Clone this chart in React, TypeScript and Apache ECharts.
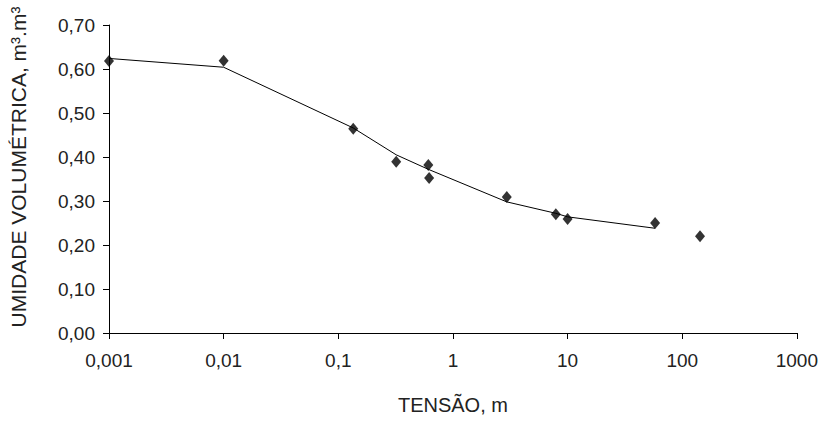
import React, { useEffect, useRef } from "react";
import * as echarts from "echarts";

const tensao = [0.001, 0.01, 0.135, 0.32, 0.61, 0.62, 2.95, 7.9, 10, 58, 143];
const umidade = [0.618, 0.619, 0.464, 0.389, 0.382, 0.352, 0.309, 0.27, 0.259, 0.25, 0.22];
const ajusteTensao = [0.001, 0.01, 0.135, 0.32, 0.61, 2.95, 7.9, 10, 58];
const ajusteUmidade = [0.624, 0.604, 0.466, 0.405, 0.372, 0.298, 0.272, 0.264, 0.238];
const xTickLabels = ["0,001", "0,01", "0,1", "1", "10", "100", "1000"];

const FONT = "'Liberation Sans Narrow', 'Liberation Sans', Arial, sans-serif";

export default function App() {
  const ref = useRef<HTMLDivElement>(null);
  useEffect(() => {
    if (!ref.current) return;
    const chart = echarts.init(ref.current, null, { renderer: "svg" });
    chart.setOption({
      animation: false,
      backgroundColor: "#ffffff",
      grid: { left: 108, right: 23, top: 25, bottom: 99 },
      xAxis: {
        type: "log",
        logBase: 10,
        min: 0.001,
        max: 1000,
        name: "TENSÃO, m",
        nameLocation: "middle",
        nameGap: 62,
        nameTextStyle: { color: "#222", fontFamily: FONT, fontSize: 20 },
        axisLine: { show: true, lineStyle: { color: "#000", width: 1 } },
        axisTick: { show: true, length: 6, inside: false, lineStyle: { color: "#000" } },
        minorTick: { show: false },
        splitLine: { show: false },
        axisLabel: {
          color: "#222",
          fontFamily: FONT,
          fontSize: 19,
          margin: 18,
          formatter: (v: number) => xTickLabels[Math.round(Math.log10(v)) + 3] ?? "",
        },
      },
      yAxis: {
        type: "value",
        min: 0,
        max: 0.7,
        interval: 0.1,
        name: "UMIDADE VOLUMÉTRICA, m³.m³",
        nameLocation: "middle",
        nameGap: 80,
        nameTextStyle: { color: "#222", fontFamily: FONT, fontSize: 21, padding: [0, 0, 0, 24] },
        axisLine: { show: true, lineStyle: { color: "#000", width: 1 } },
        axisTick: { show: true, length: 6, inside: false, lineStyle: { color: "#000" } },
        splitLine: { show: false },
        axisLabel: {
          color: "#222",
          fontFamily: FONT,
          fontSize: 19,
          margin: 14,
          formatter: (v: number) => v.toFixed(2).replace(".", ","),
        },
      },
      series: [
        {
          type: "line",
          data: ajusteTensao.map((x, i) => [x, ajusteUmidade[i]]),
          showSymbol: false,
          symbol: "none",
          lineStyle: { color: "#000", width: 1 },
          z: 1,
        },
        {
          type: "scatter",
          data: tensao.map((x, i) => [x, umidade[i]]),
          symbol: "diamond",
          symbolSize: [10, 12],
          itemStyle: { color: "#000" },
          z: 2,
        },
      ],
    });
    return () => chart.dispose();
  }, []);
  return (
    <div
      ref={ref}
      style={{ position: "fixed", left: 0, top: 0, width: 821, height: 432, background: "#fff" }}
    />
  );
}
